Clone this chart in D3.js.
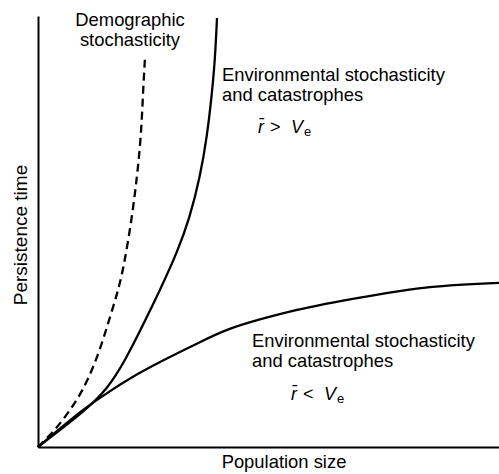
<!DOCTYPE html>
<html>
<head>
<meta charset="utf-8">
<script src="https://cdn.jsdelivr.net/npm/d3@7"></script>
<style>
  body { margin: 0; background: #fff; }
  svg text { font-family: "Liberation Sans", Arial, sans-serif; fill: #000; }
</style>
</head>
<body>
<svg id="chart" width="499" height="474"></svg>
<script>
// curves (population size 0-100, persistence time 0-100)
var demogX = [0, 3.04, 5.42, 8.46, 10.85, 13.45, 15.62, 17.57, 18.87, 20.39, 21.48, 22.34, 22.78, 23.21];
var demogY = [0, 3.25, 6.26, 10.90, 15.55, 22.51, 30.16, 36.89, 43.39, 53.36, 62.65, 71.93, 82.13, 90.49];

var envHighX = [0, 4.77, 9.76, 14.97, 19.09, 22.78, 26.46, 30.15, 32.97, 35.14, 36.66, 37.74, 38.39, 38.83];
var envHighY = [0, 3.94, 8.12, 13.23, 20.42, 28.31, 36.43, 45.01, 53.36, 62.65, 71.93, 82.13, 89.79, 99.54];

var envLowX = [0, 9.8, 15.0, 22.1, 33.0, 41.6, 56.2, 70.5, 85.0, 100];
var envLowY = [0, 8.6, 12.5, 17.2, 23.2, 27.4, 31.8, 34.8, 37.1, 38.1];

var xLabel = "Population size";
var yLabel = "Persistence time";

const margin = { top: 16, right: 0, bottom: 27, left: 38 };
const width = 499 - margin.left - margin.right;
const height = 474 - margin.top - margin.bottom;

const svg = d3.select('#chart')
    .append('g')
    .attr('transform', `translate(${margin.left}, ${margin.top})`);

const xScale = d3.scaleLinear().domain([0, 100]).range([0, width]);
const yScale = d3.scaleLinear().domain([0, 100]).range([height, 0]);

// plain axes, no ticks
const xAxis = d3.axisBottom(xScale).tickValues([]).tickSizeOuter(0);
const yAxis = d3.axisLeft(yScale).tickValues([]).tickSizeOuter(0);

svg.append('g')
    .attr('transform', `translate(0, ${height})`)
    .call(xAxis)
    .select('.domain').attr('stroke-width', 2);
svg.append('g')
    .call(yAxis)
    .select('.domain').attr('stroke-width', 2);

function zipPts(xs, ys) {
    return xs.map((x, i) => [x, ys[i]]);
}

const line = d3.line()
    .x(d => xScale(d[0]))
    .y(d => yScale(d[1]))
    .curve(d3.curveCatmullRom.alpha(0.5));

// the steep ones get a b-spline so the hand-read points don't wobble
const smooth = d3.line()
    .x(d => xScale(d[0]))
    .y(d => yScale(d[1]))
    .curve(d3.curveBasis);

svg.append('path')
    .attr('d', line(zipPts(envLowX, envLowY)))
    .attr('fill', 'none').attr('stroke', '#000').attr('stroke-width', 2.3);

svg.append('path')
    .attr('d', smooth(zipPts(envHighX, envHighY)))
    .attr('fill', 'none').attr('stroke', '#000').attr('stroke-width', 2.3);

svg.append('path')
    .attr('d', smooth(zipPts(demogX, demogY)))
    .attr('fill', 'none').attr('stroke', '#000').attr('stroke-width', 2.3)
    .attr('stroke-dasharray', '8,5');

// labels (absolute page coords)
const root = d3.select('#chart');
const fs = '18.4px';

function block(x, y, lines, anchor) {
    lines.forEach((t, i) => {
        root.append('text')
            .attr('x', x).attr('y', y + i * 19.5)
            .attr('text-anchor', anchor || 'start')
            .style('font-size', fs)
            .text(t);
    });
}

block(130, 26, ['Demographic', 'stochasticity'], 'middle');
block(222, 81, ['Environmental stochasticity', 'and catastrophes']);
block(252, 347, ['Environmental stochasticity', 'and catastrophes']);

function rel(x, y, sym) {
    const g = root.append('g').style('font-size', '18px');
    g.append('text').attr('x', x).attr('y', y).style('font-style', 'italic').text('r\u0304');
    g.append('text').attr('x', x + 12).attr('y', y).text(sym);
    g.append('text').attr('x', x + 33).attr('y', y).style('font-style', 'italic').text('V');
    g.append('text').attr('x', x + 46).attr('y', y + 3).style('font-size', '13px').text('e');
}
rel(258, 133, '>');
rel(291, 400, '<');

root.append('text')
    .attr('x', 284).attr('y', 468)
    .attr('text-anchor', 'middle')
    .style('font-size', fs)
    .text(xLabel);

root.append('text')
    .attr('transform', 'translate(27, 235) rotate(-90)')
    .attr('text-anchor', 'middle')
    .style('font-size', '19px')
    .text(yLabel);
</script>
</body>
</html>
